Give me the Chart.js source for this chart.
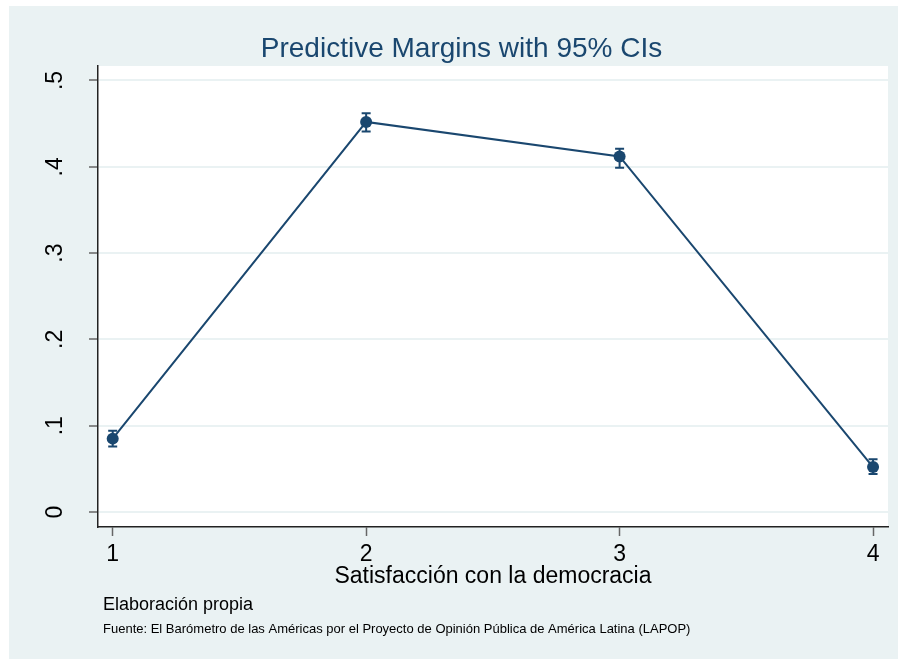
<!DOCTYPE html>
<html>
<head>
<meta charset="utf-8">
<script src="https://cdn.jsdelivr.net/npm/chart.js@4/dist/chart.umd.min.js"></script>
<style>
  html, body { margin: 0; padding: 0; background: #fff; }
  canvas { display: block; }
</style>
</head>
<body>
<canvas id="marginsChart" width="898" height="659"></canvas>
<script>
// values
const categories = [1, 2, 3, 4];
const xTickLabels = ["1", "2", "3", "4"];
const margins = [0.085, 0.452, 0.412, 0.052];
const ciLow = [0.076, 0.441, 0.399, 0.044];
const ciHigh = [0.094, 0.462, 0.421, 0.061];
const yTicks = [0, 0.1, 0.2, 0.3, 0.4, 0.5];
const yTickLabels = ["0", ".1", ".2", ".3", ".4", ".5"];

const titleText = "Predictive Margins with 95% CIs";
const xTitleText = "Satisfacción con la democracia";
const noteText = "Elaboración propia";
const sourceText = "Fuente: El Barómetro de las Américas por el Proyecto de Opinión Pública de América Latina (LAPOP)";

const navy = "#1a476f";
const bgGray = "#eaf2f3";
const fontFamily = "'Liberation Sans', Arial, sans-serif";

const backgroundPlugin = {
    id: "stataBackground",
    beforeDraw(chart) {
        const { ctx, chartArea } = chart;
        ctx.save();
        ctx.fillStyle = "#ffffff";
        ctx.fillRect(0, 0, chart.width, chart.height);
        ctx.fillStyle = bgGray;
        ctx.fillRect(9, 6, chart.width - 9, chart.height - 6);
        ctx.fillStyle = "#ffffff";
        ctx.fillRect(chartArea.left, chartArea.top, chartArea.right - chartArea.left, chartArea.bottom - chartArea.top);
        ctx.restore();
    },
};

// confidence intervals, drawn under the markers
const errorBarPlugin = {
    id: "errorBars",
    beforeDatasetsDraw(chart) {
        const { ctx, scales } = chart;
        ctx.save();
        ctx.strokeStyle = navy;
        ctx.lineWidth = 2;
        categories.forEach((c, i) => {
            const x = scales.x.getPixelForValue(c);
            const yLo = scales.y.getPixelForValue(ciLow[i]);
            const yHi = scales.y.getPixelForValue(ciHigh[i]);
            ctx.beginPath();
            ctx.moveTo(x, yLo);
            ctx.lineTo(x, yHi);
            ctx.moveTo(x - 4.5, yLo);
            ctx.lineTo(x + 4.5, yLo);
            ctx.moveTo(x - 4.5, yHi);
            ctx.lineTo(x + 4.5, yHi);
            ctx.stroke();
        });
        ctx.restore();
    },
};

const textPlugin = {
    id: "stataText",
    afterDraw(chart) {
        const { ctx, scales, chartArea } = chart;
        ctx.save();

        ctx.fillStyle = navy;
        ctx.font = "28px " + fontFamily;
        ctx.textAlign = "center";
        ctx.textBaseline = "alphabetic";
        ctx.fillText(titleText, 461.5, 57);

        ctx.fillStyle = "#000";
        ctx.font = "23px " + fontFamily;
        categories.forEach((c, i) => {
            ctx.fillText(xTickLabels[i], scales.x.getPixelForValue(c), 561);
        });

        yTicks.forEach((v, i) => {
            ctx.save();
            ctx.translate(62, scales.y.getPixelForValue(v));
            ctx.rotate(-Math.PI / 2);
            ctx.textAlign = "center";
            ctx.fillText(yTickLabels[i], 0, 0);
            ctx.restore();
        });

        ctx.fillText(xTitleText, (chartArea.left + chartArea.right) / 2, 583);

        ctx.textAlign = "left";
        ctx.font = "18px " + fontFamily;
        ctx.fillText(noteText, 103, 610);
        ctx.font = "13px " + fontFamily;
        ctx.fillText(sourceText, 103, 633);

        ctx.restore();
    },
};

new Chart(document.getElementById("marginsChart"), {
    type: "line",
    data: {
        datasets: [
            {
                data: categories.map((c, i) => ({ x: c, y: margins[i] })),
                borderColor: navy,
                borderWidth: 2,
                backgroundColor: navy,
                pointBackgroundColor: navy,
                pointBorderWidth: 0,
                pointRadius: 6,
                tension: 0,
                fill: false,
            },
        ],
    },
    options: {
        responsive: false,
        devicePixelRatio: 1,
        animation: false,
        layout: { padding: { top: 66, right: 10, left: 0, bottom: 0 } },
        plugins: {
            legend: { display: false },
            tooltip: { enabled: false },
            title: { display: false },
        },
        scales: {
            x: {
                type: "linear",
                min: 0.942,
                max: 4.059,
                afterBuildTicks: (scale) => {
                    scale.ticks = categories.map((v) => ({ value: v }));
                },
                afterFit: (scale) => {
                    scale.height = 132;
                },
                ticks: { display: false },
                grid: {
                    drawOnChartArea: false,
                    drawTicks: true,
                    tickLength: 9,
                    tickColor: "#666",
                    tickWidth: 1.5,
                },
                border: { display: true, color: "#222", width: 1.5 },
            },
            y: {
                type: "linear",
                min: -0.0174,
                max: 0.5168,
                afterBuildTicks: (scale) => {
                    scale.ticks = yTicks.map((v) => ({ value: v }));
                },
                afterFit: (scale) => {
                    scale.width = 98;
                },
                ticks: { display: false },
                grid: {
                    color: bgGray,
                    lineWidth: 2,
                    drawTicks: true,
                    tickLength: 9,
                    tickColor: "#666",
                    tickWidth: 1.5,
                },
                border: { display: true, color: "#222", width: 1.5 },
            },
        },
    },
    plugins: [backgroundPlugin, errorBarPlugin, textPlugin],
});
</script>
</body>
</html>
